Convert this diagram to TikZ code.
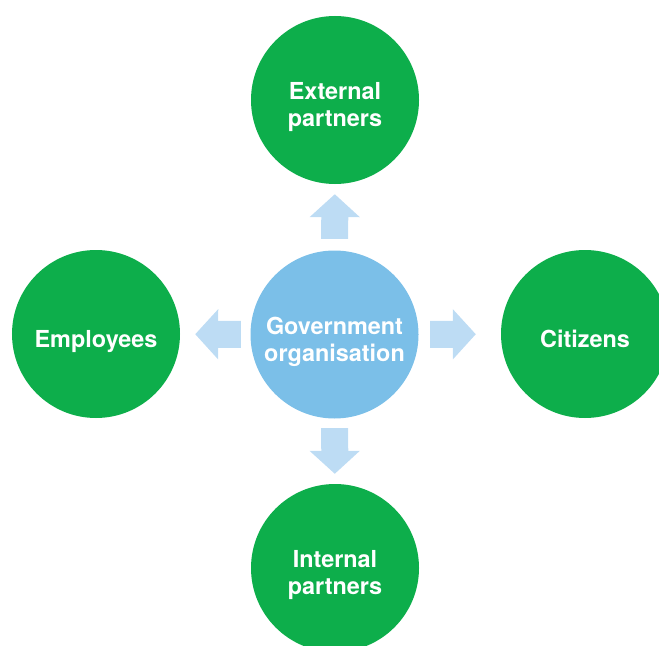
\documentclass[tikz,border=0pt]{standalone}
\usepackage{fontspec}
\setmainfont{TeX Gyre Heros}
\usetikzlibrary{arrows.meta}

\definecolor{stakegreen}{HTML}{0DAE4B}
\definecolor{orgblue}{HTML}{7BBFE8}
\definecolor{flowblue}{HTML}{BDDCF4}

\tikzset{
	caption/.style={text=white,align=center,yshift=-7bp,text depth=5bp,
		font=\fontsize{23.5}{27}\selectfont\bfseries},
	party/.style={shape=circle,fill=stakegreen,minimum size=168bp,inner sep=0pt,
		label={[caption]center:#1}},
	org/.style={party=#1,fill=orgblue},
	flow/.style={draw=flowblue,line width=27bp,
		-{Triangle[width=49bp,length=23bp]}}
}

\begin{document}
\begin{tikzpicture}[x=1bp,y=-1bp]
	\useasboundingbox (0,0) rectangle (659,646);
	\clip (0,0) rectangle (659,646);

	\node[org={Government\\organisation}] (gov) at (334.5, 334.5) {};
	\node[party={External\\partners}]     (ext) at (335, 100)     {};
	\node[party={Employees}]              (emp) at (96, 334)      {};
	\node[party={Citizens}]               (cit) at (585, 334)     {};
	\node[party={Internal\\partners}]     (int) at (335, 568)     {};

	% flows out of the organisation
	\draw[flow,shorten <=11.5bp,shorten >=10bp] (gov) -- (ext);
	\draw[flow,shorten <=9.5bp,shorten >=15bp]  (gov) -- (emp);
	\draw[flow,shorten <=11.5bp,shorten >=25bp] (gov) -- (cit);
	\draw[flow,shorten <=9.5bp,shorten >=10bp]  (gov) -- (int);
\end{tikzpicture}
\end{document}
